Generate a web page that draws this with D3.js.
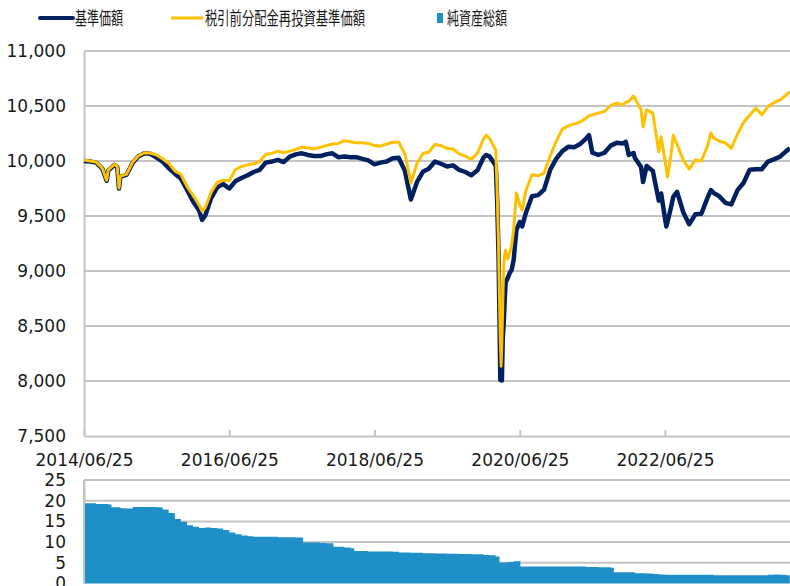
<!DOCTYPE html>
<html>
<head>
<meta charset="utf-8">
<script src="https://cdn.jsdelivr.net/npm/d3@7"></script>
<style>
body { margin: 0; background: #fff; }
text { font-family: "DejaVu Sans", Verdana, sans-serif; fill: #1a1a1a; }
.legend text { font-family: "Noto Sans CJK JP", sans-serif; }
</style>
</head>
<body>
<div id="chart"></div>
<script>
// price data (基準価額 / 税引前分配金再投資基準価額)
var dates = [
  "2014-06-25","2014-07-25","2014-08-25","2014-09-25","2014-10-17","2014-10-25","2014-11-25","2014-12-09","2014-12-18","2014-12-25",
  "2015-01-25","2015-02-25","2015-03-25","2015-04-25","2015-05-25","2015-06-25","2015-07-25","2015-08-25","2015-09-25","2015-10-25",
  "2015-11-25","2015-12-25","2016-01-25","2016-02-09","2016-02-25","2016-03-25","2016-04-25","2016-05-25","2016-06-25","2016-07-25",
  "2016-08-25","2016-09-25","2016-10-25","2016-11-25","2016-12-25","2017-01-25","2017-02-25","2017-03-25","2017-04-25","2017-05-25",
  "2017-06-25","2017-07-25","2017-08-25","2017-09-25","2017-10-25","2017-11-25","2017-12-25","2018-01-25","2018-02-25","2018-03-25",
  "2018-04-25","2018-05-25","2018-06-25","2018-07-25","2018-08-25","2018-09-25","2018-10-25","2018-11-25","2018-12-25","2019-01-25",
  "2019-02-25","2019-03-25","2019-04-25","2019-05-25","2019-06-25","2019-07-25","2019-08-25","2019-09-25","2019-10-25","2019-11-25",
  "2019-12-25","2020-01-08","2020-01-25","2020-02-25","2020-03-03","2020-03-10","2020-03-15","2020-03-19","2020-03-23","2020-03-27",
  "2020-03-31","2020-04-05","2020-04-10","2020-04-15","2020-04-25","2020-05-05","2020-05-15","2020-05-25","2020-06-08","2020-06-25",
  "2020-07-07","2020-07-25","2020-08-25","2020-09-25","2020-10-25","2020-11-25","2020-12-25","2021-01-25","2021-02-25","2021-03-25",
  "2021-04-25","2021-05-25","2021-06-08","2021-06-25","2021-07-25","2021-08-25","2021-09-25","2021-10-25","2021-11-25","2021-12-10",
  "2021-12-25","2022-01-18","2022-01-25","2022-02-25","2022-03-07","2022-03-25","2022-04-25","2022-05-25","2022-06-06","2022-06-25",
  "2022-07-02","2022-07-08","2022-07-25","2022-08-06","2022-08-25","2022-09-25","2022-10-25","2022-11-25","2022-12-25","2023-01-25",
  "2023-02-11","2023-02-25","2023-03-25","2023-04-25","2023-05-25","2023-06-25","2023-07-25","2023-08-25","2023-09-25","2023-10-25",
  "2023-11-25","2023-12-25","2024-01-25","2024-02-25","2024-03-14"
];
var navValues = [
  10000, 9995, 9985, 9930, 9820, 9912, 9965, 9945, 9750, 9855,
  9875, 9985, 10040, 10070, 10065, 10030, 9995, 9935, 9885, 9840,
  9740, 9635, 9550, 9465, 9505, 9660, 9760, 9790, 9750, 9815,
  9845, 9870, 9900, 9920, 9985, 9995, 10010, 9990, 10040, 10060,
  10070, 10055, 10045, 10045, 10060, 10070, 10035, 10040, 10035, 10035,
  10020, 10005, 9970, 9985, 9995, 10025, 10030, 9910, 9650, 9810,
  9905, 9930, 9995, 9975, 9950, 9960, 9920, 9900, 9870, 9915,
  10030, 10055, 10040, 9960, 9645, 9145, 8555, 8010, 8005, 8005,
  8375, 8525, 8735, 8900, 8935, 8980, 9010, 9100, 9375, 9445,
  9405, 9525, 9680, 9690, 9740, 9920, 10020, 10090, 10130, 10125,
  10155, 10205, 10235, 10075, 10055, 10075, 10140, 10165, 10160, 10175,
  10055, 10073, 10027, 9945, 9810, 9955, 9910, 9640, 9705, 9480,
  9405, 9445, 9575, 9675, 9720, 9535, 9425, 9515, 9520, 9665,
  9735, 9710, 9680, 9620, 9605, 9735, 9800, 9920, 9925, 9925,
  9995, 10015, 10040, 10090, 10115
];
var reinvValues = [
  10010, 10000, 9990, 9935, 9825, 9920, 9970, 9950, 9755, 9860,
  9880, 9990, 10045, 10075, 10073, 10055, 10020, 9980, 9910, 9880,
  9770, 9690, 9600, 9545, 9575, 9715, 9805, 9825, 9820, 9920,
  9950, 9965, 9975, 9995, 10060, 10070, 10090, 10075, 10090, 10105,
  10125, 10120, 10110, 10125, 10140, 10155, 10160, 10185, 10175, 10165,
  10165, 10160, 10140, 10135, 10155, 10170, 10170, 10065, 9800, 9980,
  10070, 10080, 10150, 10140, 10115, 10110, 10065, 10045, 10015, 10070,
  10200, 10235, 10205, 10100, 9735, 9235, 8735, 8375, 8135, 8375,
  8690, 9055, 9145, 9190, 9110, 9165, 9235, 9375, 9710, 9600,
  9555, 9725, 9875, 9865, 9890, 10045, 10180, 10290, 10320, 10335,
  10355, 10390, 10410, 10420, 10435, 10450, 10505, 10525, 10510, 10535,
  10540, 10590, 10570, 10465, 10310, 10465, 10435, 10085, 10220, 10010,
  9920, 9855, 10055, 10235, 10150, 10010, 9925, 10010, 10000, 10135,
  10255, 10210, 10180, 10165, 10115, 10245, 10350, 10415, 10480, 10420,
  10495, 10530, 10555, 10600, 10630
];

// net assets (純資産総額)
var assetDates = [
  "2014-06-25","2014-08-25","2014-10-25","2014-11-10","2014-12-25","2015-01-25","2015-02-25","2015-05-25","2015-06-25","2015-07-25",
  "2015-08-25","2015-09-25","2015-10-25","2015-11-25","2015-12-25","2016-01-25","2016-02-25","2016-03-25","2016-04-25","2016-05-25",
  "2016-06-25","2016-07-25","2016-08-25","2016-09-25","2016-10-25","2017-01-25","2017-02-25","2017-05-25","2017-07-01","2017-09-25",
  "2017-10-25","2017-11-30","2018-01-25","2018-02-25","2018-03-15","2018-05-25","2018-09-25","2018-10-25","2018-12-25","2019-02-25",
  "2019-04-25","2019-06-25","2019-08-25","2019-10-25","2019-12-25","2020-01-25","2020-02-25","2020-03-15","2020-04-25","2020-05-25",
  "2020-06-25","2020-06-28","2021-01-25","2021-05-25","2021-07-25","2021-09-25","2021-10-11","2022-01-25","2022-03-25","2022-04-25",
  "2022-05-25","2022-06-25","2023-02-25","2023-10-25","2023-11-25","2023-12-25","2024-01-25","2024-02-25","2024-03-14"
];
var assetValues = [
  19.4, 19.2, 19.1, 18.4, 18.2, 18.1, 18.5, 18.5, 18.4, 17.9,
  17.0, 15.6, 14.9, 14.1, 13.7, 13.4, 13.5, 13.4, 13.3, 12.9,
  12.3, 11.9, 11.6, 11.4, 11.3, 11.3, 11.2, 11.1, 9.9, 9.8,
  9.7, 8.9, 8.7, 8.5, 7.85, 7.75, 7.65, 7.5, 7.4, 7.3,
  7.25, 7.2, 7.15, 7.05, 6.9, 6.8, 6.5, 5.1, 5.2, 5.4,
  5.5, 4.1, 4.1, 4.0, 3.9, 3.8, 2.7, 2.5, 2.4, 2.3,
  2.2, 2.1, 2.0, 2.0, 2.1, 2.2, 2.1, 2.0, 2.0
];

var priceTicks = [7500, 8000, 8500, 9000, 9500, 10000, 10500, 11000];
var assetTicks = [0, 5, 10, 15, 20, 25];
var dateTicks = ["2014-06-25", "2016-06-25", "2018-06-25", "2020-06-25", "2022-06-25"];
var legendLabels = ["基準価額", "税引前分配金再投資基準価額", "純資産総額"];

var navColor = "#002060", reinvColor = "#ffc000", assetColor = "#1f8fc7", gridColor = "#c4c4c4";

var parseDate = d3.timeParse("%Y-%m-%d");
var priceData = dates.map(function(d, i) {
  return {date: parseDate(d), nav: navValues[i], reinv: reinvValues[i]};
});
var assetData = assetDates.map(function(d, i) {
  return {date: parseDate(d), value: assetValues[i]};
});

var svg = d3.select("#chart").append("svg")
  .attr("width", 790)
  .attr("height", 586);

var left = 84, right = 790;

var x = d3.scaleTime()
  .domain([parseDate("2014-06-25"), parseDate("2024-03-15")])
  .range([left, right]);
var y = d3.scaleLinear().domain([7500, 11000]).range([436, 51]);
var y2 = d3.scaleLinear().domain([0, 25]).range([583.5, 480]);

// gridlines, top panel
svg.append("g").selectAll("line")
  .data(priceTicks.slice(1))
  .enter().append("line")
    .attr("x1", left).attr("x2", right)
    .attr("y1", function(d) { return y(d); })
    .attr("y2", function(d) { return y(d); })
    .attr("stroke", gridColor).attr("stroke-width", 2);

// gridlines, bottom panel
svg.append("g").selectAll("line")
  .data(assetTicks.slice(1))
  .enter().append("line")
    .attr("x1", left).attr("x2", right)
    .attr("y1", function(d) { return y2(d); })
    .attr("y2", function(d) { return y2(d); })
    .attr("stroke", gridColor).attr("stroke-width", 2);

// y axes
var yAxis = svg.append("g")
  .attr("transform", "translate(" + left + ",0)")
  .call(d3.axisLeft(y).tickValues(priceTicks).tickFormat(d3.format(",")).tickSize(0).tickPadding(18));
var y2Axis = svg.append("g")
  .attr("transform", "translate(" + left + ",0)")
  .call(d3.axisLeft(y2).tickValues(assetTicks).tickFormat(d3.format("d")).tickSize(0).tickPadding(18));

// x axis
var xAxis = svg.append("g")
  .attr("transform", "translate(0,436)")
  .call(d3.axisBottom(x)
    .tickValues(dateTicks.map(parseDate))
    .tickFormat(d3.timeFormat("%Y/%m/%d"))
    .tickSizeInner(-6).tickSizeOuter(0).tickPadding(18));

[yAxis, y2Axis, xAxis].forEach(function(g) {
  g.select(".domain").attr("stroke", gridColor).attr("stroke-width", 2);
  g.selectAll(".tick line").attr("stroke", gridColor).attr("stroke-width", 2);
  g.selectAll("text").style("font-size", "17px").attr("fill", "#1a1a1a");
});

// net asset area
var area = d3.area()
  .curve(d3.curveStepAfter)
  .x(function(d) { return x(d.date); })
  .y0(y2(0))
  .y1(function(d) { return y2(d.value); });
svg.append("path")
  .datum(assetData)
  .attr("d", area)
  .attr("fill", assetColor);

// redraw left edge of bottom panel over the area
svg.append("line")
  .attr("x1", left).attr("x2", left).attr("y1", y2(25)).attr("y2", y2(0))
  .attr("stroke", gridColor).attr("stroke-width", 2);

// price lines
var navLine = d3.line()
  .x(function(d) { return x(d.date); })
  .y(function(d) { return y(d.nav); });
var reinvLine = d3.line()
  .x(function(d) { return x(d.date); })
  .y(function(d) { return y(d.reinv); });

svg.append("path")
  .datum(priceData)
  .attr("d", navLine)
  .attr("fill", "none")
  .attr("stroke", navColor)
  .attr("stroke-width", 4.5)
  .attr("stroke-linejoin", "round");

svg.append("path")
  .datum(priceData)
  .attr("d", reinvLine)
  .attr("fill", "none")
  .attr("stroke", reinvColor)
  .attr("stroke-width", 3)
  .attr("stroke-linejoin", "round");

// legend
var legend = svg.append("g").attr("class", "legend");
legend.append("line").attr("x1", 40).attr("x2", 73).attr("y1", 18).attr("y2", 18)
  .attr("stroke", navColor).attr("stroke-width", 4).attr("stroke-linecap", "round");
legend.append("text").attr("x", 75).attr("y", 25).text(legendLabels[0])
  .style("font-size", "18px").attr("textLength", 48).attr("lengthAdjust", "spacingAndGlyphs");
legend.append("line").attr("x1", 171).attr("x2", 203).attr("y1", 18).attr("y2", 18)
  .attr("stroke", reinvColor).attr("stroke-width", 3);
legend.append("text").attr("x", 205).attr("y", 25).text(legendLabels[1])
  .style("font-size", "18px").attr("textLength", 160).attr("lengthAdjust", "spacingAndGlyphs");
legend.append("rect").attr("x", 437).attr("y", 13).attr("width", 6).attr("height", 10)
  .attr("fill", assetColor);
legend.append("text").attr("x", 447).attr("y", 25).text(legendLabels[2])
  .style("font-size", "18px").attr("textLength", 60).attr("lengthAdjust", "spacingAndGlyphs");
</script>
</body>
</html>
